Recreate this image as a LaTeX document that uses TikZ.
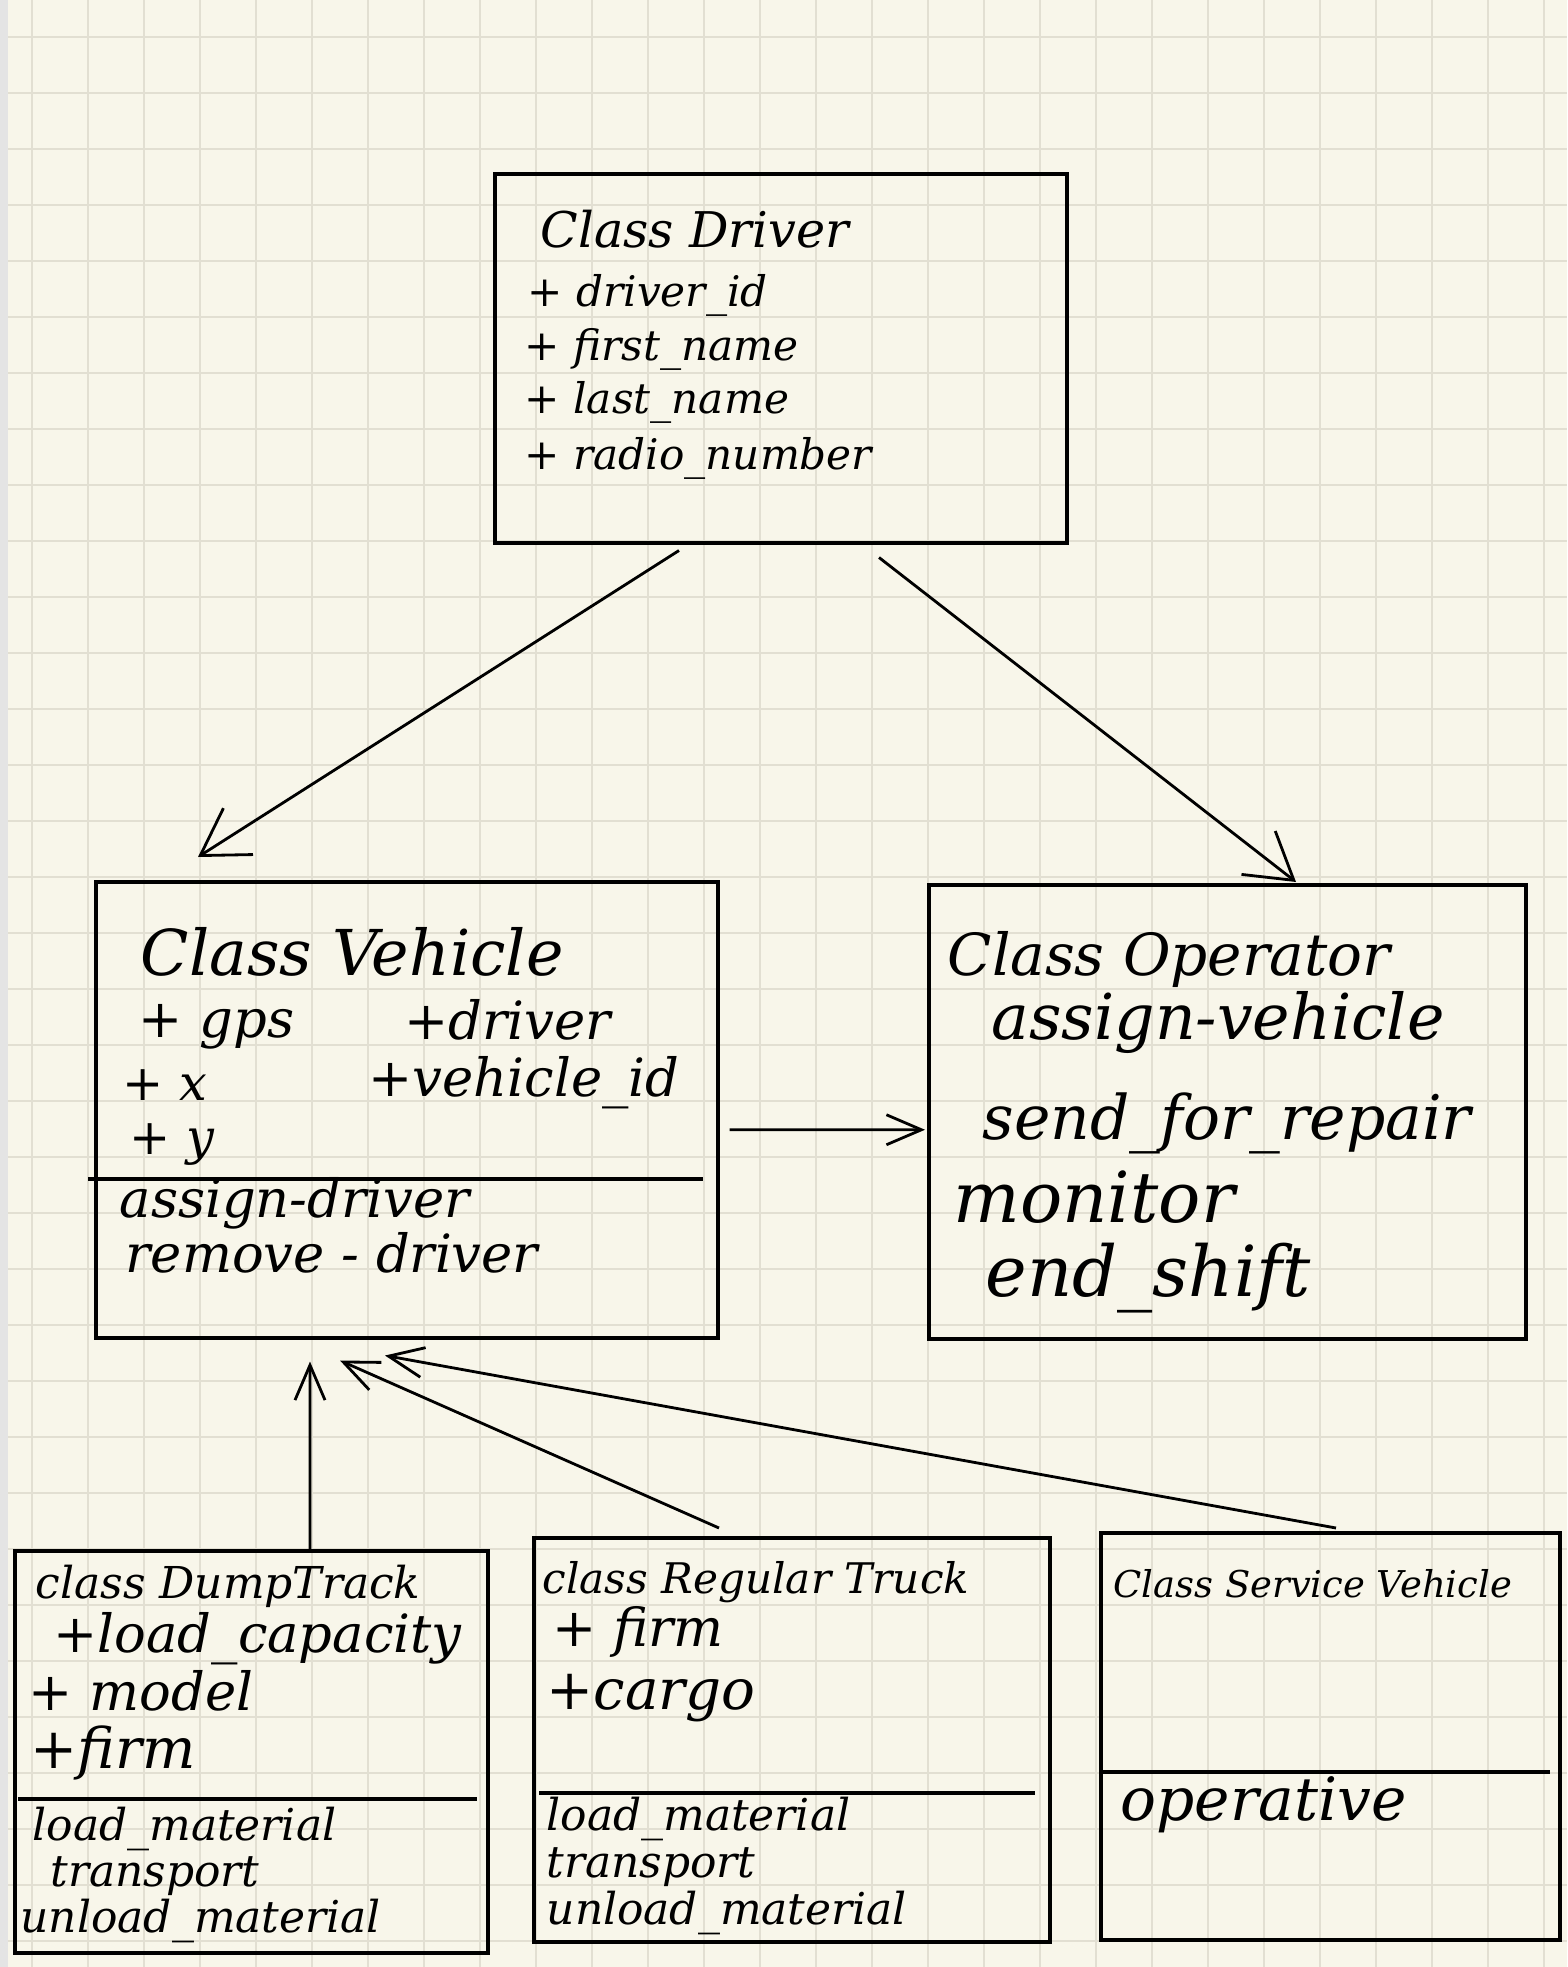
\documentclass[tikz,border=0pt]{standalone}
\usepackage{fontspec}
\setmainfont{DejaVu Serif}
\usepackage{xcolor}
\usepackage{tikz}
\usetikzlibrary{arrows.meta,positioning}
\definecolor{paper}{RGB}{248,246,234}
\definecolor{gridln}{RGB}{226,223,210}
\definecolor{edge}{RGB}{228,228,228}

\begin{document}
\begin{tikzpicture}[
  cls/.style={draw,line width=1pt,anchor=north west,inner sep=0pt},
  lbl/.style={anchor=base west,inner sep=0pt,font=\fontsize{#1}{#1}\selectfont\itshape},
  lbl/.default=15,
  sep/.style={line width=1pt},
  arr/.style={-{Straight Barb[length=4.5mm,width=5.5mm]},line width=0.8pt},
  arrs/.style={-{Straight Barb[length=3.5mm,width=3mm]},line width=0.8pt}
]
% paper with grid
\useasboundingbox (0,0) rectangle (15.67,-19.67);
\fill[paper] (0,0) rectangle (15.67,-19.67);
\foreach \i in {0,...,27}
  \draw[gridln,line width=0.7pt] ({0.32+0.56*\i},0) -- ++(0,-19.67);
\foreach \j in {0,...,34}
  \draw[gridln,line width=0.7pt] (0,{-0.37-0.56*\j}) -- ++(15.67,0);
\fill[edge] (0,0) rectangle (0.08,-19.67);

% Top: Driver
\node[cls,minimum width=5.72cm,minimum height=3.69cm] (drv) at (4.93,-1.72) {};
\node[lbl=14] (drvT) at (5.40,-2.48) {Class Driver};
\node[lbl=12] (drv1) at (5.27,-3.07) {+ driver\_id};
\node[lbl=12] (drv2) at (5.24,-3.61) {+ first\_name};
\node[lbl=12] (drv3) at (5.24,-4.14) {+ last\_name};
\node[lbl=12] (drv4) at (5.24,-4.70) {+ radio\_number};

% Middle row: Vehicle and Operator
\node[cls,minimum width=6.22cm,minimum height=4.56cm] (veh) at (0.94,-8.80) {};
\node[lbl=18] (vehT) at (1.40,-9.75) {Class Vehicle};
\node[lbl] (veh1) at (1.38,-10.37) {+ gps};
\node[lbl] (veh2) at (4.04,-10.39) {+driver};
\node[lbl=14] (veh3) at (1.22,-11.00) {+ x};
\node[lbl] (veh4) at (3.68,-10.96) {+vehicle\_id};
\node[lbl=14] (veh5) at (1.29,-11.54) {+ y};
\draw[sep] (0.88,-11.79) -- (7.03,-11.79);
\node[lbl] (veh6) at (1.19,-12.17) {assign-driver};
\node[lbl] (veh7) at (1.25,-12.72) {remove - driver};

\node[cls,minimum width=5.97cm,minimum height=4.54cm] (opr) at (9.27,-8.83) {};
\node[lbl=16.5] (oprT) at (9.47,-9.75) {Class Operator};
\node[lbl=18] (opr1) at (9.91,-10.39) {assign-vehicle};
\node[lbl=17.5] (opr2) at (9.82,-11.39) {send\_for\_repair};
\node[lbl=20] (opr3) at (9.53,-12.22) {monitor};
\node[lbl=20] (opr4) at (9.85,-12.96) {end\_shift};

% Bottom row: subclasses
\node[cls,minimum width=4.73cm,minimum height=4.02cm] (dump) at (0.13,-15.49) {};
\node[lbl=12.5] (dumpT) at (0.35,-15.98) {class DumpTrack};
\node[lbl] (dump1) at (0.53,-16.52) {+load\_capacity};
\node[lbl] (dump2) at (0.28,-17.10) {+ model};
\node[lbl=16] (dump3) at (0.30,-17.68) {+firm};
\draw[sep] (0.18,-17.99) -- (4.77,-17.99);
\node[lbl=12.5] (dump4) at (0.32,-18.40) {load\_material};
\node[lbl=12.5] (dump5) at (0.50,-18.86) {transport};
\node[lbl=12.5] (dump6) at (0.20,-19.32) {unload\_material};

\node[cls,minimum width=5.16cm,minimum height=4.04cm] (reg) at (5.32,-15.36) {};
\node[lbl=12] (regT) at (5.42,-15.93) {class Regular Truck};
\node[lbl] (reg1) at (5.52,-16.46) {+ firm};
\node[lbl=16] (reg2) at (5.46,-17.09) {+cargo};
\draw[sep] (5.39,-17.93) -- (10.35,-17.93);
\node[lbl=12.5] (reg3) at (5.46,-18.30) {load\_material};
\node[lbl=12.5] (reg4) at (5.46,-18.77) {transport};
\node[lbl=12.5] (reg5) at (5.46,-19.24) {unload\_material};

\node[cls,minimum width=4.59cm,minimum height=4.07cm] (srv) at (10.99,-15.31) {};
\node[lbl=10.5] (srvT) at (11.13,-15.97) {Class Service Vehicle};
\draw[sep] (11.03,-17.72) -- (15.50,-17.72);
\node[lbl=17] (srv1) at (11.20,-18.20) {operative};

% connectors
\draw[arr] ([xshift=1.86cm,yshift=-0.06cm]drv.south west) -- ([xshift=1.04cm,yshift=0.23cm]veh.north west);
\draw[arr] ([xshift=3.86cm,yshift=-0.13cm]drv.south west) -- ([xshift=3.69cm,yshift=0.01cm]opr.north west);
\draw[arrs] ([xshift=0.1cm,yshift=-0.2cm]veh.east) -- ([xshift=-0.02cm,yshift=-0.18cm]opr.west);
% subclasses up to Vehicle
\draw[arrs] ([xshift=2.97cm]dump.north west) -- ([xshift=2.16cm,yshift=-0.22cm]veh.south west);
\draw[arrs] ([xshift=1.87cm,yshift=0.08cm]reg.north west) -- ([xshift=2.46cm,yshift=-0.21cm]veh.south west);
\draw[arrs] ([xshift=2.37cm,yshift=0.03cm]srv.north west) -- ([xshift=2.91cm,yshift=-0.16cm]veh.south west);
\end{tikzpicture}
\end{document}
